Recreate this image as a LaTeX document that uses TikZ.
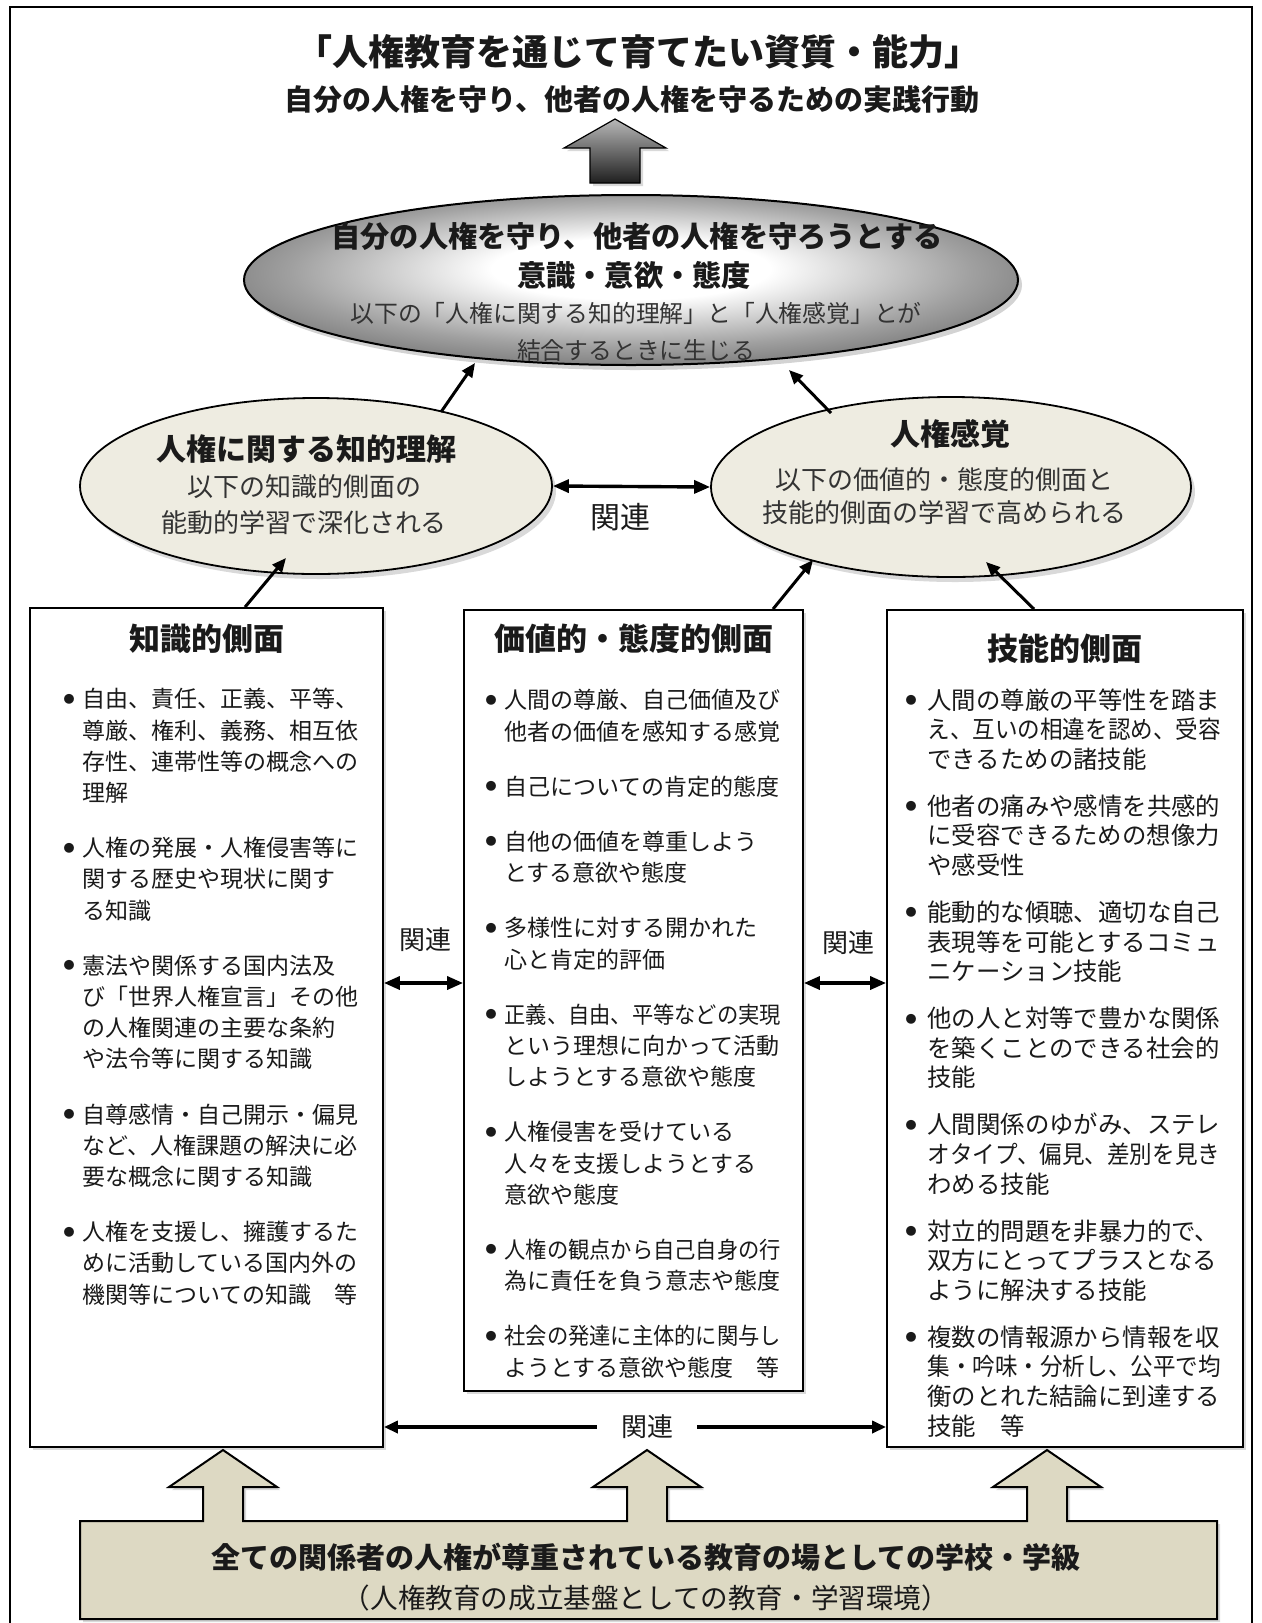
\documentclass[tikz,border=0pt]{standalone}
\usepackage{fontspec}
\setmainfont{Noto Sans CJK JP}
\usepackage{graphicx}
\usetikzlibrary{arrows.meta,positioning,calc,shapes.geometric,shadows}
\definecolor{ink}{HTML}{1A1A1A}
\definecolor{subink}{HTML}{333333}
\definecolor{beige}{HTML}{EEECE1}
\definecolor{dodaifill}{HTML}{DDD9C3}
\definecolor{ellrim}{HTML}{5E5E5E}
\definecolor{ellmid}{HTML}{A0A0A0}
\pgfdeclareradialshading{ishikishade}{\pgfpoint{0bp}{4bp}}{color(0bp)=(white); color(9bp)=(white); color(22bp)=(ellmid); color(33bp)=(ellrim); color(50bp)=(ellrim)}

\newlength{\kouind}
% one bullet item, hanging indent
\newcommand{\kou}[1]{\par\noindent\hangindent=\kouind\hangafter=1\makebox[\kouind][l]{\raisebox{2.3pt}{\fontsize{5.5pt}{5pt}\selectfont ●}}#1\par}
% column of items
\newcommand{\retsu}[2]{\parbox[t]{170pt}{\setlength{\parindent}{0pt}\setlength{\parskip}{#1}#2}}
% squeeze a line that is one character too long
\newcommand{\tume}[1]{\scalebox{0.925}[1]{#1}}

\begin{document}
\begin{tikzpicture}[
  x=0.5pt, y=-0.5pt,
  every node/.append style={text=ink},
  daimei/.style={inner sep=0, font=\fontsize{18pt}{20pt}\selectfont\bfseries},
  fukudai/.style={inner sep=0, font=\fontsize{14.5pt}{16pt}\selectfont\bfseries},
  ookii/.style={ellipse, draw=black, line width=1pt, inner sep=0, minimum width=387pt, minimum height=85pt,
    shading=ishikishade, drop shadow={opacity=0.35, shadow xshift=2pt, shadow yshift=-2.5pt}},
  hiroi/.style={ellipse, draw=black, line width=0.9pt, fill=beige, inner sep=0,
    drop shadow={opacity=0.3, shadow xshift=2pt, shadow yshift=-2.5pt}},
  elltitle/.style={inner sep=0, font=\fontsize{14.6pt}{16pt}\selectfont\bfseries},
  ellsub/.style={inner sep=0, text=subink, font=\fontsize{11.9pt}{13pt}\selectfont},
  sidetitle/.style={inner sep=0, font=\fontsize{15pt}{17pt}\selectfont\bfseries},
  sidesub/.style={inner sep=0, text=subink, font=\fontsize{13pt}{15pt}\selectfont},
  waku/.style={draw=black, line width=0.9pt, fill=white, inner sep=0,
    drop shadow={opacity=0.3, shadow xshift=1.5pt, shadow yshift=-1.5pt}},
  midasi/.style={inner sep=0, font=\fontsize{15.5pt}{17pt}\selectfont\bfseries},
  koumoku/.style={inner sep=0, anchor=north west, font=\fontsize{11.5pt}{15.6pt}\selectfont},
  kanren/.style={inner sep=0, font=\fontsize{13pt}{15pt}\selectfont},
  yaji/.style={-{Triangle[length=7pt,width=6pt]}, line width=1.5pt},
  soho/.style={{Triangle[length=8pt,width=6.5pt]}-{Triangle[length=8pt,width=6.5pt]}, line width=1.7pt},
  dodai/.style={fill=dodaifill, draw=black, line width=1pt, drop shadow={opacity=0.3, shadow xshift=1.5pt, shadow yshift=-1.5pt}},
]
\useasboundingbox (0,0) rectangle (1262,1623);
% frame
\draw[line width=0.8pt] (10,1640) -- (10,7) -- (1252,7) -- (1252,1640);

% heading
\node[daimei] (daimei) at (638,52) {「人権教育を通じて育てたい資質・能力」};
\node[fukudai] (jissen) at (632,100) {自分の人権を守り、他者の人権を守るための実践行動};
\shade[top color=black!28, bottom color=black!88, draw=black, line width=0.6pt,
  drop shadow={opacity=0.3, shadow xshift=1.5pt, shadow yshift=-1.5pt}]
  (590,183) -- (590,148) -- (564,148) -- (615,119) -- (666,148) -- (640,148) -- (640,183) -- cycle;

% (a) the big ellipse
\node[ookii] (ishiki) at (631,280) {};
\node[elltitle] (ishiki-1) at (637,236) {自分の人権を守り、他者の人権を守ろうとする};
\node[elltitle] (ishiki-2) at (634,275) {意識・意欲・態度};
\node[ellsub] (ishiki-3) at (636,313) {以下の「人権に関する知的理解」と「人権感覚」とが};
\node[ellsub] (ishiki-4) at (636,350) {結合するときに生じる};

% (b) the two ellipses
\node[hiroi, minimum width=236pt, minimum height=88pt] (chiteki) at (316,486) {};
\node[sidetitle] (chiteki-1) at (306,449) {人権に関する知的理解};
\node[sidesub] (chiteki-2) at (304,487) {以下の知識的側面の};
\node[sidesub] (chiteki-3) at (304,523) {能動的学習で深化される};

\node[hiroi, minimum width=240pt, minimum height=90pt] (kankaku) at (951,487) {};
\node[sidetitle] (kankaku-1) at (950,434) {人権感覚};
\node[sidesub] (kankaku-2) at (944,480) {以下の価値的・態度的側面と};
\node[sidesub] (kankaku-3) at (944,513) {技能的側面の学習で高められる};

\draw[soho] (chiteki.east) -- (kankaku.west);
\node[kanren, font=\fontsize{15pt}{17pt}\selectfont] (kanren-1) at (620,517) {関連};

% (c) the three boxes
\node[waku, minimum width=176.5pt, minimum height=419.5pt] (chishiki) at (206.5,1027.5) {};
\node[waku, minimum width=169.5pt, minimum height=390.5pt] (kachi) at (633.5,1000.5) {};
\node[waku, minimum width=178pt, minimum height=418.5pt] (gino) at (1065,1028.5) {};

\node[midasi] (chishiki-t) at ($(chishiki.north)+(0,32)$) {知識的側面};
\node[midasi] (kachi-t) at ($(kachi.north)+(0,30)$) {価値的・態度的側面};
\node[midasi] (gino-t) at ($(gino.north)+(0,40)$) {技能的側面};

\node[koumoku] (chishiki-l) at ($(chishiki.north west)+(34,81)$) {\setlength{\kouind}{9.5pt}\retsu{12pt}{%
  \kou{自由、責任、正義、平等、\\尊厳、権利、義務、相互依\\存性、連帯性等の概念への\\理解}
  \kou{人権の発展・人権侵害等に\\関する歴史や現状に関す\\る知識}
  \kou{憲法や関係する国内法及\\び「世界人権宣言」その他\\の人権関連の主要な条約\\や法令等に関する知識}
  \kou{自尊感情・自己開示・偏見\\など、人権課題の解決に必\\要な概念に関する知識}
  \kou{人権を支援し、擁護するた\\めに活動している国内外の\\機関等についての知識　等}}};

\node[koumoku] (kachi-l) at ($(kachi.north west)+(22,80)$) {\setlength{\kouind}{9.5pt}\retsu{12pt}{%
  \kou{人間の尊厳、自己価値及び\\他者の価値を感知する感覚}
  \kou{自己についての肯定的態度}
  \kou{自他の価値を尊重しよう\\とする意欲や態度}
  \kou{多様性に対する開かれた\\心と肯定的評価}
  \kou{\tume{正義、自由、平等などの実現}\\という理想に向かって活動\\しようとする意欲や態度}
  \kou{人権侵害を受けている\\人々を支援しようとする\\意欲や態度}
  \kou{\tume{人権の観点から自己自身の行}\\為に責任を負う意志や態度}
  \kou{\tume{社会の発達に主体的に関与し}\\ようとする意欲や態度　等}}};

\node[koumoku, font=\fontsize{12.2pt}{14.8pt}\selectfont] (gino-l) at ($(gino.north west)+(19,79)$) {\setlength{\kouind}{11pt}\retsu{8.7pt}{%
  \kou{人間の尊厳の平等性を踏ま\\\tume{え、互いの相違を認め、受容}\\できるための諸技能}
  \kou{他者の痛みや感情を共感的\\に受容できるための想像力\\や感受性}
  \kou{能動的な傾聴、適切な自己\\表現等を可能とするコミュ\\ニケーション技能}
  \kou{他の人と対等で豊かな関係\\を築くことのできる社会的\\技能}
  \kou{人間関係のゆがみ、ステレ\\\tume{オタイプ、偏見、差別を見き}\\わめる技能}
  \kou{対立的問題を非暴力的で、\\双方にとってプラスとなる\\ように解決する技能}
  \kou{複数の情報源から情報を収\\\tume{集・吟味・分析し、公平で均}\\衡のとれた結論に到達する\\技能　等}}};

% arrows up to the ellipses
\draw[yaji] ($(chiteki.center)+(125,-74)$) -- ($(ishiki.center)+(-156,83)$);
\draw[yaji] ($(kankaku.center)+(-120,-74)$) -- ($(ishiki.center)+(158,90)$);
\draw[yaji] ($(chishiki.north)+(38.5,0)$) -- ($(chiteki.center)+(-30,72)$);
\draw[yaji] ($(kachi.north)+(139.5,0)$) -- ($(kankaku.center)+(-138,73)$);
\draw[yaji] ($(gino.north)+(-31,0)$) -- ($(kankaku.center)+(35,75)$);

% relations between the boxes
\coordinate (kanren-y) at (0,983);
\draw[soho] (chishiki.east |- kanren-y) -- (kachi.west |- kanren-y);
\draw[soho] (kachi.east |- kanren-y) -- (gino.west |- kanren-y);
\node[kanren] (kanren-2) at (425,940) {関連};
\node[kanren] (kanren-3) at (848,943) {関連};
\node[kanren, inner xsep=12pt] (kanren-4) at (647,1427) {関連};
\draw[yaji, line width=1.8pt] (kanren-4) -- (chishiki.east |- kanren-4);
\draw[yaji, line width=1.8pt] (kanren-4) -- (gino.west |- kanren-4);

% (d) the base with its three arrows
\draw[dodai] (80,1619) -- (80,1521)
  \foreach \t in {223,647,1047}{ -- (\t-20,1521) -- (\t-20,1487) -- (\t-54,1487) -- (\t,1450) -- (\t+54,1487) -- (\t+20,1487) -- (\t+20,1521)}
  -- (1217,1521) -- (1217,1619) -- cycle;
\node[fukudai] (dodai-1) at (646,1557) {全ての関係者の人権が尊重されている教育の場としての学校・学級};
\node[inner sep=0, font=\fontsize{13.8pt}{15pt}\selectfont] (dodai-2) at (646,1598) {（人権教育の成立基盤としての教育・学習環境）};
\end{tikzpicture}
\end{document}
